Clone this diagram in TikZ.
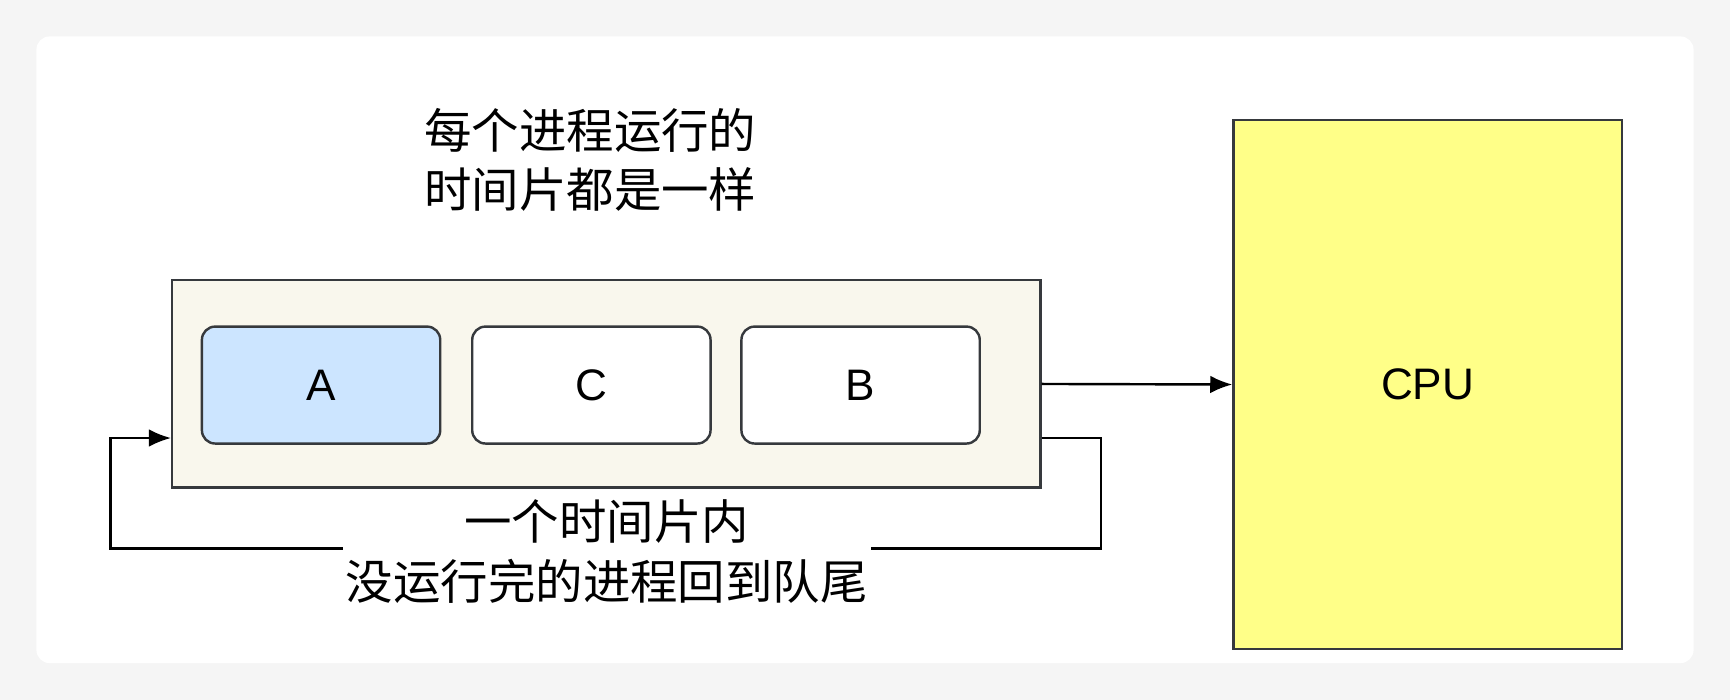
\documentclass[tikz,border=0pt]{standalone}
\usepackage{fontspec}
\setmainfont{Liberation Sans}
\newfontfamily\cjk{Noto Sans CJK SC}
\usetikzlibrary{positioning,arrows.meta}
\definecolor{queuefill}{HTML}{F9F7ED}
\definecolor{procblue}{HTML}{CCE5FF}
\definecolor{cpufill}{HTML}{FFFF88}
\definecolor{edge}{HTML}{36393D}
\begin{document}
\begin{tikzpicture}[x=1pt,y=-1pt,
  proc/.style={draw=edge, line width=2.2pt, rounded corners=12pt, minimum width=216pt, minimum height=106pt, font=\fontsize{40}{44}\selectfont},
  lbl/.style={align=center, font=\cjk\fontsize{43}{54}\selectfont},
  flow/.style={-{Latex[length=20pt,width=16pt]}, line width=2.2pt}]
\useasboundingbox (0,0) rectangle (1568,634);
\fill[black!4] (0,0) rectangle (1568,634);
\fill[white, rounded corners=12pt] (33,33) rectangle (1535,601);
% queue
\node[draw=edge, fill=queuefill, line width=2.2pt, minimum width=787pt, minimum height=188pt] (queue) at (549.5,348) {};
\node[proc, fill=procblue] (A) at (291,349) {A};
\node[proc, fill=white] (C) at (536,349) {C};
\node[proc, fill=white] (B) at (780,349) {B};
% cpu
\node[draw=edge, fill=cpufill, line width=2.2pt, minimum width=352pt, minimum height=479pt, font=\fontsize{40}{44}\selectfont] (cpu) at (1294,348.5) {CPU};
% labels
\node[lbl] (title) at (535,145) {每个进程运行的\\时间片都是一样};
\coordinate (outR) at (944,397);
\coordinate (inL) at (155,397);
%%%%%%%%%%%%%%%%
\draw[flow] (queue.east) -- (cpu.west);
\draw[flow] (outR) -- (998,397) -- (998,497) -- (100,497)
  -- (100,397) -- (inL);
\node[lbl, fill=white, inner sep=3pt] (back) at (550,500) {一个时间片内\\没运行完的进程回到队尾};
\end{tikzpicture}
\end{document}
